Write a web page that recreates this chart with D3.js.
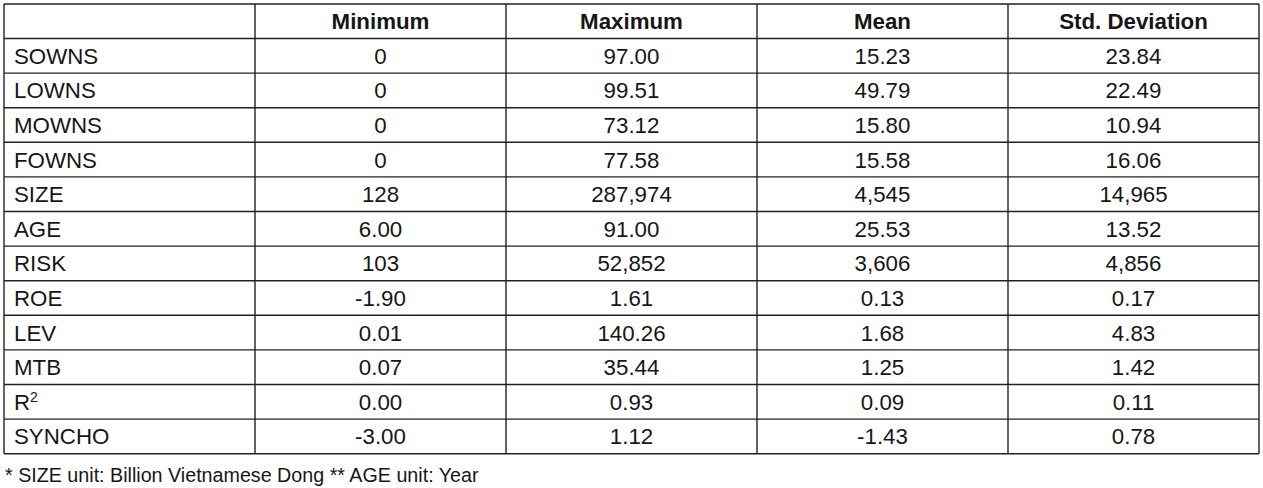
<!DOCTYPE html>
<html>
<head>
<meta charset="utf-8">
<script src="https://cdn.jsdelivr.net/npm/d3@7"></script>
<style>
  html, body { margin: 0; padding: 0; background: #fff; }
  svg { display: block; }
</style>
</head>
<body>
<svg id="chart" width="1263" height="488"></svg>
<script>
const columns = ["", "Minimum", "Maximum", "Mean", "Std. Deviation"];
const variables = ["SOWNS", "LOWNS", "MOWNS", "FOWNS", "SIZE", "AGE", "RISK", "ROE", "LEV", "MTB", "R2", "SYNCHO"];
const minimum = ["0", "0", "0", "0", "128", "6.00", "103", "-1.90", "0.01", "0.07", "0.00", "-3.00"];
const maximum = ["97.00", "99.51", "73.12", "77.58", "287,974", "91.00", "52,852", "1.61", "140.26", "35.44", "0.93", "1.12"];
const mean = ["15.23", "49.79", "15.80", "15.58", "4,545", "25.53", "3,606", "0.13", "1.68", "1.25", "0.09", "-1.43"];
const stdDev = ["23.84", "22.49", "10.94", "16.06", "14,965", "13.52", "4,856", "0.17", "4.83", "1.42", "0.11", "0.78"];
const footnote = "* SIZE unit: Billion Vietnamese Dong ** AGE unit: Year";

(function() {
const svg = d3.select("#chart");
const xLeft = 4, xRight = 1259, yTop = 4, headerH = 34.5, yBottom = 453.7;
const textColor = "#161616", lineColor = "#222";
const fontFamily = "'Liberation Sans', Arial, sans-serif";
const fs = 22.3;

const x = d3.scaleBand().domain(d3.range(columns.length)).range([xLeft, xRight]);
const y = d3.scaleBand().domain(d3.range(variables.length)).range([yTop + headerH, yBottom]);

const rows = variables.map((v, i) => [v, minimum[i], maximum[i], mean[i], stdDev[i]]);

// Header text
svg.append("g").selectAll("text").data(columns).join("text")
  .attr("x", (d, i) => x(i) + x.bandwidth() / 2)
  .attr("y", yTop + headerH / 2 + fs * 0.36)
  .attr("text-anchor", "middle")
  .attr("font-family", fontFamily)
  .attr("font-weight", "bold")
  .attr("font-size", fs)
  .attr("fill", textColor)
  .text(d => d);

// Body cells
const rowG = svg.append("g").selectAll("g").data(rows).join("g")
  .attr("transform", (d, i) => `translate(0,${y(i) + y.bandwidth() / 2 + fs * 0.36})`);

rowG.selectAll("text").data(d => d).join("text")
  .attr("x", (d, j) => j === 0 ? x(0) + 10 : x(j) + x.bandwidth() / 2)
  .attr("text-anchor", (d, j) => j === 0 ? "start" : "middle")
  .attr("font-family", fontFamily)
  .attr("font-size", fs)
  .attr("fill", textColor)
  .each(function(d, j) {
    const t = d3.select(this);
    if (j === 0 && d === "R2") {
      t.append("tspan").text("R");
      t.append("tspan").attr("font-size", 14).attr("dy", -8).text("2");
    } else {
      t.text(d);
    }
  });

// Grid lines
const grid = svg.append("g").attr("stroke", lineColor).attr("stroke-width", 1.4).attr("fill", "none");
const hLines = [yTop, yTop + headerH].concat(d3.range(1, variables.length + 1).map(i => i === variables.length ? yBottom : y(i)));
grid.selectAll("line.h").data(hLines).join("line").attr("class", "h")
  .attr("x1", xLeft).attr("x2", xRight)
  .attr("y1", d => d).attr("y2", d => d);
const vLines = d3.range(columns.length).map(i => x(i)).concat([xRight]);
grid.selectAll("line.v").data(vLines).join("line").attr("class", "v")
  .attr("y1", yTop).attr("y2", yBottom)
  .attr("x1", d => d).attr("x2", d => d);

// Footnote
svg.append("text")
  .attr("x", 5).attr("y", 482)
  .attr("font-family", fontFamily)
  .attr("font-size", 19.7)
  .attr("fill", textColor)
  .text(footnote);
})();
</script>
</body>
</html>
